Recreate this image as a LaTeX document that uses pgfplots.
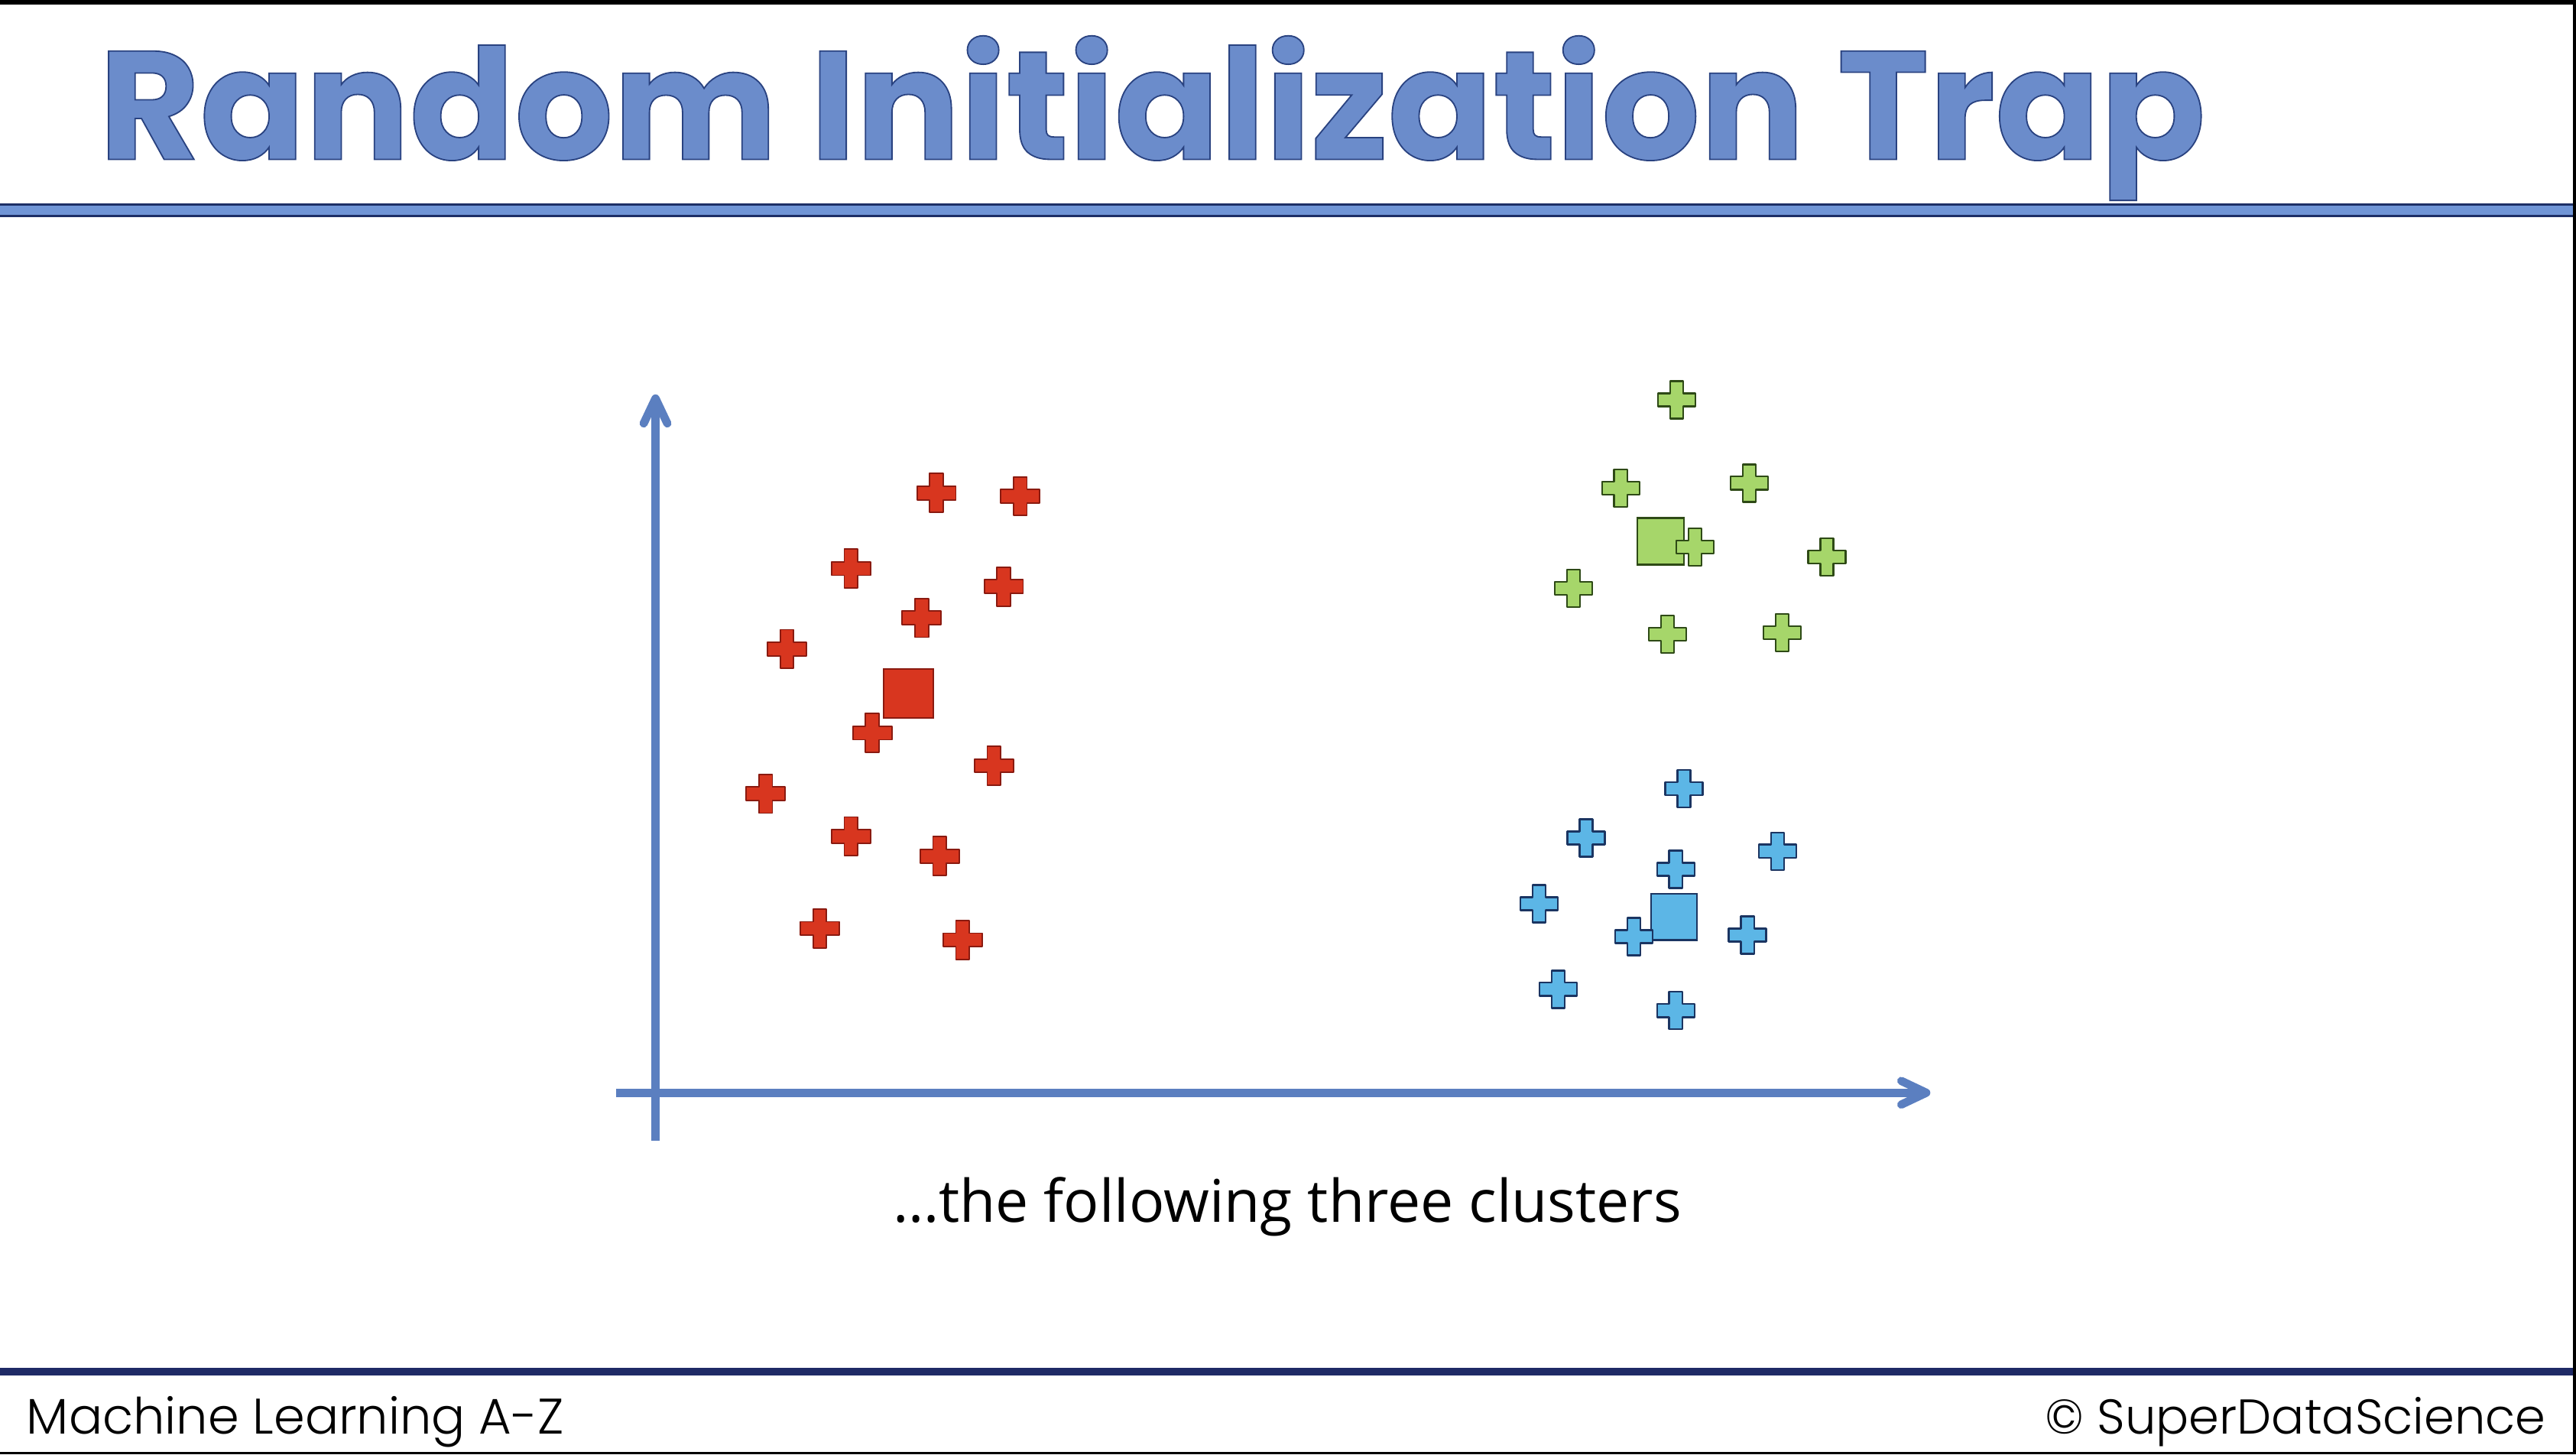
\documentclass[border=0pt]{standalone}
\usepackage{pgfplots}
\pgfplotsset{compat=1.18}
\usetikzlibrary{arrows.meta}
\usepackage{fontspec}
\usepackage{graphicx}
\setmainfont{Open Sans}
\newfontfamily\titlefont{Poppins Bold}[FakeBold=0.9]
\newfontfamily\footfont{Poppins Light}
\newfontfamily\capfont{Open Sans}

\definecolor{redfill}{HTML}{D8361F}
\definecolor{rededge}{HTML}{8A1A10}
\definecolor{greenfill}{HTML}{A6D66A}
\definecolor{greenedge}{HTML}{2E4A16}
\definecolor{bluefill}{HTML}{5CB6E6}
\definecolor{blueedge}{HTML}{1B3562}
\definecolor{axisblue}{HTML}{5B7FC0}
\definecolor{titlefill}{HTML}{6B8CCB}
\definecolor{barblue}{HTML}{7095D6}
\definecolor{bardark}{HTML}{1D2F66}
\definecolor{footnavy}{HTML}{1F2A66}

\pgfdeclareplotmark{fatplus}{%
  \pgfpathmoveto{\pgfqpoint{-0.35\pgfplotmarksize}{\pgfplotmarksize}}%
  \pgfpathlineto{\pgfqpoint{0.35\pgfplotmarksize}{\pgfplotmarksize}}%
  \pgfpathlineto{\pgfqpoint{0.35\pgfplotmarksize}{0.35\pgfplotmarksize}}%
  \pgfpathlineto{\pgfqpoint{\pgfplotmarksize}{0.35\pgfplotmarksize}}%
  \pgfpathlineto{\pgfqpoint{\pgfplotmarksize}{-0.35\pgfplotmarksize}}%
  \pgfpathlineto{\pgfqpoint{0.35\pgfplotmarksize}{-0.35\pgfplotmarksize}}%
  \pgfpathlineto{\pgfqpoint{0.35\pgfplotmarksize}{-\pgfplotmarksize}}%
  \pgfpathlineto{\pgfqpoint{-0.35\pgfplotmarksize}{-\pgfplotmarksize}}%
  \pgfpathlineto{\pgfqpoint{-0.35\pgfplotmarksize}{-0.35\pgfplotmarksize}}%
  \pgfpathlineto{\pgfqpoint{-\pgfplotmarksize}{-0.35\pgfplotmarksize}}%
  \pgfpathlineto{\pgfqpoint{-\pgfplotmarksize}{0.35\pgfplotmarksize}}%
  \pgfpathlineto{\pgfqpoint{-0.35\pgfplotmarksize}{0.35\pgfplotmarksize}}%
  \pgfpathclose
  \pgfusepathqfillstroke
}

\begin{document}
\begin{tikzpicture}[x=0.25mm,y=0.25mm]
\fill[white] (0,0) rectangle (1568,885);

% title (fill light blue, stroke dark navy)
\node[anchor=base west, inner sep=0pt] at (60,788) {\resizebox{320.5mm}{18.8mm}{\titlefont\color{titlefill}\special{pdf:literal direct 0.16 0.26 0.50 RG}Random Initialization Trap}};

% bar under the title
\fill[barblue] (0,753) rectangle (1566,761);
\draw[bardark, line width=0.33mm] (0,753.6) -- (1566,753.6);
\draw[bardark, line width=0.33mm] (0,760.4) -- (1566,760.4);

\begin{axis}[
  x=0.25mm, y=0.25mm,
  xmin=-24, xmax=776, ymin=-29, ymax=425,
  enlargelimits=false,
  axis lines=middle,
  ticks=none,
  clip=false,
  at={(375,191)}, anchor=south west,
  axis line style={draw=axisblue, line width=1.25mm},
  every inner x axis line/.append style={-{Straight Barb[length=3.8mm,width=3.6mm,round]}},
  every inner y axis line/.append style={-{Straight Barb[length=3.8mm,width=3.6mm,round]}},
]
% centroids (squares)
\addplot[only marks, mark=square*, mark size=3.75mm,
  mark options={fill=redfill, draw=rededge, line width=0.6pt}]
  coordinates {(154,243)};
\addplot[only marks, mark=square*, mark size=3.55mm,
  mark options={fill=greenfill, draw=greenedge, line width=0.8pt}]
  coordinates {(611.7,335.5)};
\addplot[only marks, mark=square*, mark size=3.5mm,
  mark options={fill=bluefill, draw=blueedge, line width=0.8pt}]
  coordinates {(620,107)};

% red cluster
\addplot[only marks, mark=fatplus, mark size=2.95mm,
  mark options={fill=redfill, draw=rededge, line width=0.6pt, line join=round}]
  coordinates {
  (171,365) (222,363) (119,319) (212,308) (162,289) (80,270)
  (132,219) (206,199) (67,182) (119,156) (173,144) (100,100) (187,93)
  };
% green cluster
\addplot[only marks, mark=fatplus, mark size=2.85mm,
  mark options={fill=greenfill, draw=greenedge, line width=0.8pt, line join=round}]
  coordinates {
  (621.5,421.6) (587.5,368) (665.7,371) (632.7,332) (713,326)
  (558.7,307) (616,279) (685.8,280)
  };
% blue cluster
\addplot[only marks, mark=fatplus, mark size=2.85mm,
  mark options={fill=bluefill, draw=blueedge, line width=0.8pt, line join=round}]
  coordinates {
  (626,185) (566.5,155) (683,147) (621,136) (537.8,115)
  (595.5,95) (664.7,96) (549.4,63) (621,50)
  };
\end{axis}

% caption
\node[anchor=base, inner sep=0pt] at (783.5,141.4) {\resizebox{120mm}{!}{\capfont …the following three clusters}};

% footer
\fill[footnavy] (0,48) rectangle (1566,52.5);
\node[anchor=base west, inner sep=0pt] at (16,12.5) {\resizebox{81.75mm}{!}{\footfont Machine Learning A-Z}};
\node[anchor=base east, inner sep=0pt] at (1550,12.5) {\resizebox{76.25mm}{!}{\footfont © SuperDataScience}};

% frame edges
\fill[black] (0,882.4) rectangle (1568,885);
\fill[black] (1566,0) rectangle (1568,885);
\fill[black] (0,0) rectangle (1568,1.4);

\pgfresetboundingbox
\path[use as bounding box] (0,0) rectangle (1568,885);
\end{tikzpicture}
\end{document}
